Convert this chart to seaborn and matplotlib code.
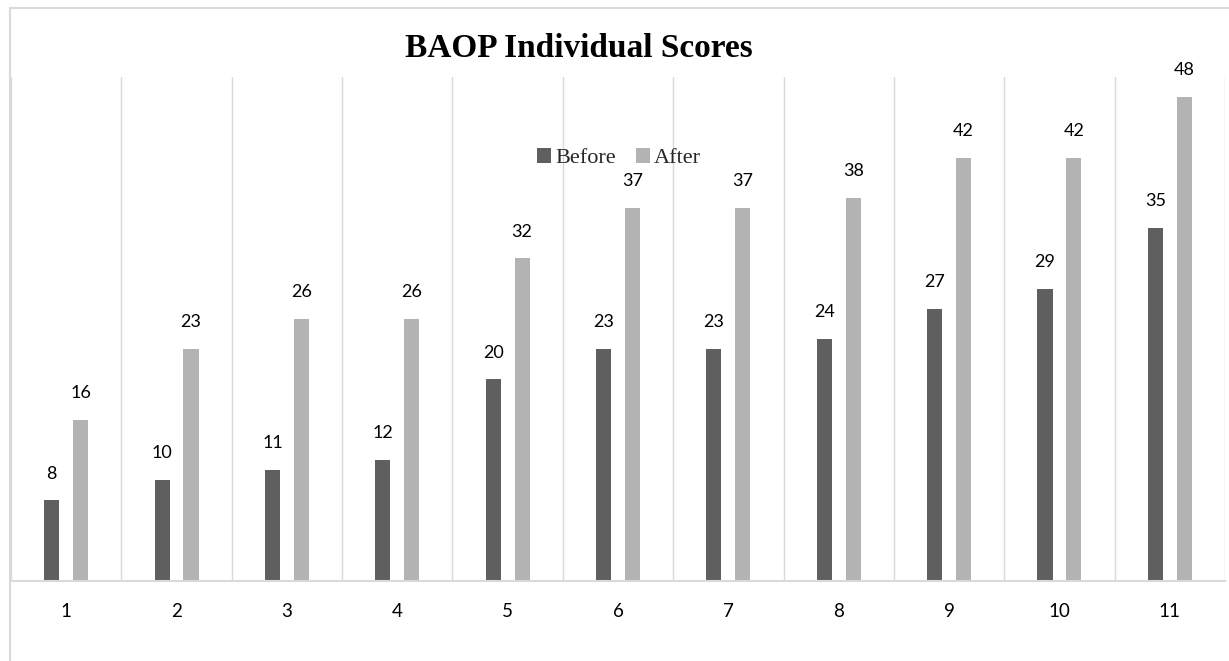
import pandas as pd
import numpy as np
import matplotlib
matplotlib.use('Agg')
import matplotlib.pyplot as plt
import matplotlib.patches as mpatches
import seaborn as sns

# chart data
participants = ['1', '2', '3', '4', '5', '6', '7', '8', '9', '10', '11']
before = [8, 10, 11, 12, 20, 23, 23, 24, 27, 29, 35]
after = [16, 23, 26, 26, 32, 37, 37, 38, 42, 42, 48]
series = ['Before', 'After']
colors = ['#5f5f5f', '#b3b3b3']

df = pd.DataFrame({
    'participant': participants * 2,
    'score': before + after,
    'period': ['Before'] * len(before) + ['After'] * len(after),
})

sns.set_style('white')
plt.rcParams['font.family'] = ['Lato', 'DejaVu Sans']

W, H = 1229, 661
fig = plt.figure(figsize=(W / 100, H / 100), dpi=100)
ax = fig.add_axes([11 / W, 1 - 581 / H, 1214 / W, 504 / H])

sns.barplot(data=df, x='participant', y='score', hue='period',
            hue_order=series, order=participants, palette=colors,
            width=0.525, gap=0.48, dodge=True, saturation=1,
            edgecolor='none', ax=ax)

# value labels
for cont in ax.containers:
    ax.bar_label(cont, padding=13.5, fontsize=13, color='#000000', family='Lato')

ax.set_ylim(0, 50)
ax.set_xlim(-0.5, len(participants) - 0.5)
ax.set_yticks([])
ax.set_xlabel('')
ax.set_ylabel('')
ax.set_xticks(np.arange(-0.5, len(participants)), minor=True)
ax.grid(which='minor', axis='x', color='#d9d9d9', linewidth=1)
ax.tick_params(axis='x', which='both', length=0, pad=16, labelsize=13.5, labelcolor='#000000')
for side in ['top', 'left', 'right']:
    ax.spines[side].set_visible(False)
ax.spines['bottom'].set_color('#d9d9d9')
ax.spines['bottom'].set_linewidth(1.5)

handles, labels = ax.get_legend_handles_labels()
ax.legend(handles, labels, loc='center', bbox_to_anchor=(0.501, 0.839), ncol=2,
          frameon=False, prop={'family': 'Liberation Serif', 'size': 16},
          handlelength=0.63, handleheight=0.63, handletextpad=0.18,
          columnspacing=0.9)

fig.text(579 / W, 1 - 57 / H, 'BAOP Individual Scores', ha='center', va='baseline',
         fontsize=24, fontweight='bold', family='Liberation Serif', color='#000000')

# chart area border
fig.patches.append(mpatches.Rectangle((10 / W, -0.1), 1.2, 1 - 8 / H + 0.1,
                                      transform=fig.transFigure, fill=False,
                                      edgecolor='#d9d9d9', linewidth=1.5))

fig.savefig('out.png', dpi=100)
